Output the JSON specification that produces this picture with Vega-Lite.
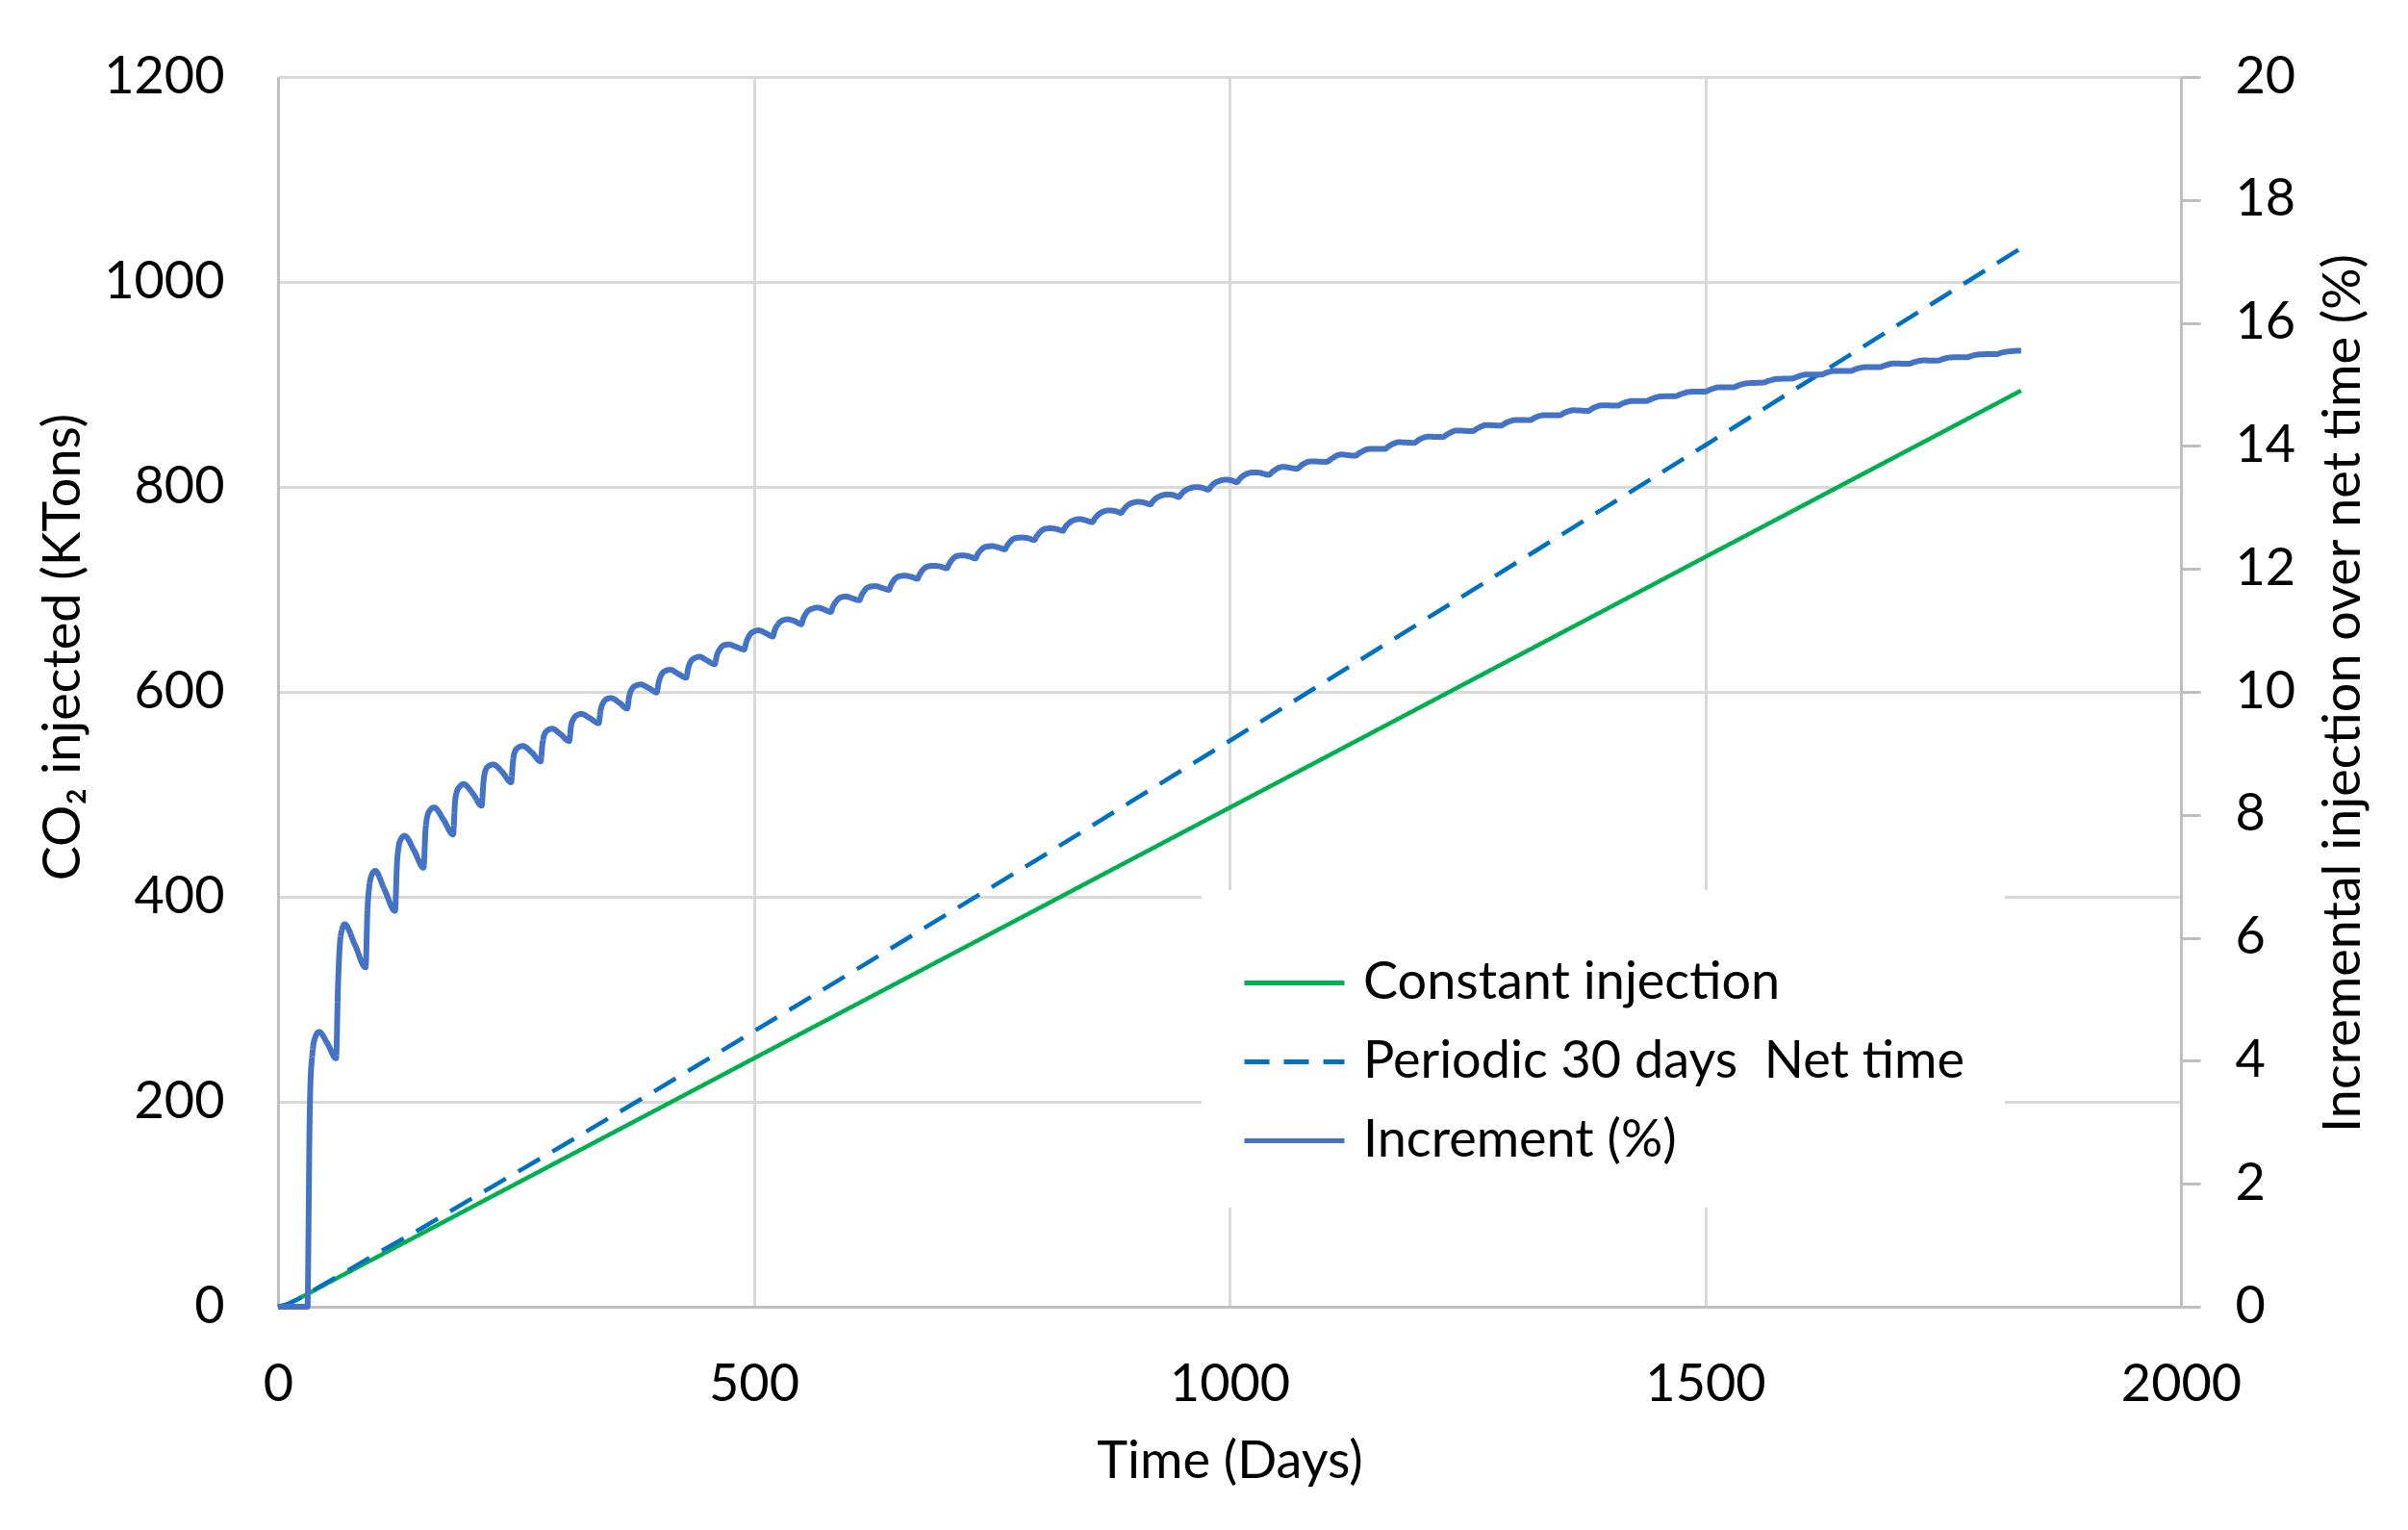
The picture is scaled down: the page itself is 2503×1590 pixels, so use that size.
{
  "$schema": "https://vega.github.io/schema/vega-lite/v6.json",
  "width": 1978,
  "height": 1278,
  "autosize": {"type": "none"},
  "padding": {"left": 289, "top": 80, "right": 236, "bottom": 232},
  "background": "white",
  "config": {
    "view": {"stroke": null},
    "font": "Lato",
    "axis": {
      "labelFont": "Lato", "labelFontSize": 54, "labelColor": "#000000",
      "titleFont": "Lato", "titleFontSize": 54, "titleFontWeight": "normal", "titleColor": "#000000",
      "gridColor": "#d9d9d9", "gridWidth": 3,
      "domainColor": "#bfbfbf", "domainWidth": 3,
      "labelOverlap": false, "labelFlush": false
    }
  },
  "data": {"values": [
    {"series": "Constant injection", "t": 0, "v": 0},
    {"series": "Constant injection", "t": 10, "v": 2.5},
    {"series": "Constant injection", "t": 20, "v": 7},
    {"series": "Constant injection", "t": 30, "v": 12},
    {"series": "Constant injection", "t": 45, "v": 19.5},
    {"series": "Constant injection", "t": 60, "v": 27},
    {"series": "Constant injection", "t": 100, "v": 46.5},
    {"series": "Constant injection", "t": 200, "v": 95.5},
    {"series": "Constant injection", "t": 300, "v": 144.4},
    {"series": "Constant injection", "t": 400, "v": 193.3},
    {"series": "Constant injection", "t": 500, "v": 242.3},
    {"series": "Constant injection", "t": 600, "v": 291.2},
    {"series": "Constant injection", "t": 700, "v": 340.1},
    {"series": "Constant injection", "t": 800, "v": 389.0},
    {"series": "Constant injection", "t": 900, "v": 438.0},
    {"series": "Constant injection", "t": 1000, "v": 486.9},
    {"series": "Constant injection", "t": 1100, "v": 535.8},
    {"series": "Constant injection", "t": 1200, "v": 584.8},
    {"series": "Constant injection", "t": 1300, "v": 633.7},
    {"series": "Constant injection", "t": 1400, "v": 682.6},
    {"series": "Constant injection", "t": 1500, "v": 731.6},
    {"series": "Constant injection", "t": 1600, "v": 780.5},
    {"series": "Constant injection", "t": 1700, "v": 829.4},
    {"series": "Constant injection", "t": 1800, "v": 878.3},
    {"series": "Constant injection", "t": 1832, "v": 894.0},
    {"series": "Periodic 30 days\u00a0 Net time", "t": 0, "v": 0},
    {"series": "Periodic 30 days\u00a0 Net time", "t": 10, "v": 2.5},
    {"series": "Periodic 30 days\u00a0 Net time", "t": 20, "v": 7},
    {"series": "Periodic 30 days\u00a0 Net time", "t": 30, "v": 12},
    {"series": "Periodic 30 days\u00a0 Net time", "t": 45, "v": 20.3},
    {"series": "Periodic 30 days\u00a0 Net time", "t": 60, "v": 28.1},
    {"series": "Periodic 30 days\u00a0 Net time", "t": 100, "v": 49.8},
    {"series": "Periodic 30 days\u00a0 Net time", "t": 150, "v": 76.1},
    {"series": "Periodic 30 days\u00a0 Net time", "t": 200, "v": 103.6},
    {"series": "Periodic 30 days\u00a0 Net time", "t": 300, "v": 157.8},
    {"series": "Periodic 30 days\u00a0 Net time", "t": 400, "v": 212.8},
    {"series": "Periodic 30 days\u00a0 Net time", "t": 500, "v": 268.7},
    {"series": "Periodic 30 days\u00a0 Net time", "t": 600, "v": 324.7},
    {"series": "Periodic 30 days\u00a0 Net time", "t": 700, "v": 381.3},
    {"series": "Periodic 30 days\u00a0 Net time", "t": 800, "v": 437.6},
    {"series": "Periodic 30 days\u00a0 Net time", "t": 900, "v": 494.9},
    {"series": "Periodic 30 days\u00a0 Net time", "t": 1000, "v": 552.1},
    {"series": "Periodic 30 days\u00a0 Net time", "t": 1100, "v": 609.6},
    {"series": "Periodic 30 days\u00a0 Net time", "t": 1200, "v": 667.3},
    {"series": "Periodic 30 days\u00a0 Net time", "t": 1300, "v": 725.1},
    {"series": "Periodic 30 days\u00a0 Net time", "t": 1400, "v": 782.8},
    {"series": "Periodic 30 days\u00a0 Net time", "t": 1500, "v": 840.6},
    {"series": "Periodic 30 days\u00a0 Net time", "t": 1600, "v": 898.6},
    {"series": "Periodic 30 days\u00a0 Net time", "t": 1700, "v": 956.6},
    {"series": "Periodic 30 days\u00a0 Net time", "t": 1800, "v": 1014.5},
    {"series": "Periodic 30 days\u00a0 Net time", "t": 1832, "v": 1033.1},
    {"series": "Increment (%)", "t": 0, "v": 0},
    {"series": "Increment (%)", "t": 10, "v": 0},
    {"series": "Increment (%)", "t": 20, "v": 0},
    {"series": "Increment (%)", "t": 31, "v": 0},
    {"series": "Increment (%)", "t": 32, "v": 1.2},
    {"series": "Increment (%)", "t": 33, "v": 2.8},
    {"series": "Increment (%)", "t": 34, "v": 3.6},
    {"series": "Increment (%)", "t": 36, "v": 4.1},
    {"series": "Increment (%)", "t": 39, "v": 4.38},
    {"series": "Increment (%)", "t": 43, "v": 4.47},
    {"series": "Increment (%)", "t": 52, "v": 4.28},
    {"series": "Increment (%)", "t": 61, "v": 4.04},
    {"series": "Increment (%)", "t": 63, "v": 5.2},
    {"series": "Increment (%)", "t": 65, "v": 5.9},
    {"series": "Increment (%)", "t": 67, "v": 6.12},
    {"series": "Increment (%)", "t": 70, "v": 6.22},
    {"series": "Increment (%)", "t": 81, "v": 5.88},
    {"series": "Increment (%)", "t": 92, "v": 5.52},
    {"series": "Increment (%)", "t": 94, "v": 6.45},
    {"series": "Increment (%)", "t": 96, "v": 6.85},
    {"series": "Increment (%)", "t": 98, "v": 7.0},
    {"series": "Increment (%)", "t": 102, "v": 7.09},
    {"series": "Increment (%)", "t": 112, "v": 6.78},
    {"series": "Increment (%)", "t": 123, "v": 6.44},
    {"series": "Increment (%)", "t": 125, "v": 7.2},
    {"series": "Increment (%)", "t": 127, "v": 7.5},
    {"series": "Increment (%)", "t": 129, "v": 7.6},
    {"series": "Increment (%)", "t": 133, "v": 7.66},
    {"series": "Increment (%)", "t": 143, "v": 7.42},
    {"series": "Increment (%)", "t": 153, "v": 7.14},
    {"series": "Increment (%)", "t": 155, "v": 7.75},
    {"series": "Increment (%)", "t": 157, "v": 7.98},
    {"series": "Increment (%)", "t": 160, "v": 8.08},
    {"series": "Increment (%)", "t": 164, "v": 8.12},
    {"series": "Increment (%)", "t": 174, "v": 7.92},
    {"series": "Increment (%)", "t": 184, "v": 7.68},
    {"series": "Increment (%)", "t": 186, "v": 8.2},
    {"series": "Increment (%)", "t": 188, "v": 8.38},
    {"series": "Increment (%)", "t": 191, "v": 8.46},
    {"series": "Increment (%)", "t": 195, "v": 8.5},
    {"series": "Increment (%)", "t": 205, "v": 8.34},
    {"series": "Increment (%)", "t": 214, "v": 8.15},
    {"series": "Increment (%)", "t": 216, "v": 8.55},
    {"series": "Increment (%)", "t": 218, "v": 8.72},
    {"series": "Increment (%)", "t": 221, "v": 8.79},
    {"series": "Increment (%)", "t": 226, "v": 8.82},
    {"series": "Increment (%)", "t": 236, "v": 8.69},
    {"series": "Increment (%)", "t": 245, "v": 8.53},
    {"series": "Increment (%)", "t": 247, "v": 8.88},
    {"series": "Increment (%)", "t": 249, "v": 9.03},
    {"series": "Increment (%)", "t": 252, "v": 9.09},
    {"series": "Increment (%)", "t": 257, "v": 9.12},
    {"series": "Increment (%)", "t": 267, "v": 9.01},
    {"series": "Increment (%)", "t": 276, "v": 8.87},
    {"series": "Increment (%)", "t": 278, "v": 9.17},
    {"series": "Increment (%)", "t": 280, "v": 9.31},
    {"series": "Increment (%)", "t": 283, "v": 9.37},
    {"series": "Increment (%)", "t": 288, "v": 9.4},
    {"series": "Increment (%)", "t": 297, "v": 9.31},
    {"series": "Increment (%)", "t": 306, "v": 9.2},
    {"series": "Increment (%)", "t": 308, "v": 9.45},
    {"series": "Increment (%)", "t": 311, "v": 9.57},
    {"series": "Increment (%)", "t": 314, "v": 9.62},
    {"series": "Increment (%)", "t": 319, "v": 9.64},
    {"series": "Increment (%)", "t": 328, "v": 9.57},
    {"series": "Increment (%)", "t": 337, "v": 9.49},
    {"series": "Increment (%)", "t": 339, "v": 9.7},
    {"series": "Increment (%)", "t": 342, "v": 9.83},
    {"series": "Increment (%)", "t": 345, "v": 9.88},
    {"series": "Increment (%)", "t": 350, "v": 9.9},
    {"series": "Increment (%)", "t": 359, "v": 9.82},
    {"series": "Increment (%)", "t": 367, "v": 9.73},
    {"series": "Increment (%)", "t": 369, "v": 9.92},
    {"series": "Increment (%)", "t": 372, "v": 10.05},
    {"series": "Increment (%)", "t": 376, "v": 10.1},
    {"series": "Increment (%)", "t": 381, "v": 10.12},
    {"series": "Increment (%)", "t": 390, "v": 10.06},
    {"series": "Increment (%)", "t": 398, "v": 9.99},
    {"series": "Increment (%)", "t": 400, "v": 10.15},
    {"series": "Increment (%)", "t": 403, "v": 10.28},
    {"series": "Increment (%)", "t": 407, "v": 10.34},
    {"series": "Increment (%)", "t": 412, "v": 10.36},
    {"series": "Increment (%)", "t": 420, "v": 10.3},
    {"series": "Increment (%)", "t": 429, "v": 10.23},
    {"series": "Increment (%)", "t": 431, "v": 10.38},
    {"series": "Increment (%)", "t": 434, "v": 10.5},
    {"series": "Increment (%)", "t": 438, "v": 10.55},
    {"series": "Increment (%)", "t": 443, "v": 10.57},
    {"series": "Increment (%)", "t": 451, "v": 10.51},
    {"series": "Increment (%)", "t": 459, "v": 10.45},
    {"series": "Increment (%)", "t": 461, "v": 10.58},
    {"series": "Increment (%)", "t": 465, "v": 10.71},
    {"series": "Increment (%)", "t": 469, "v": 10.76},
    {"series": "Increment (%)", "t": 474, "v": 10.77},
    {"series": "Increment (%)", "t": 482, "v": 10.73},
    {"series": "Increment (%)", "t": 490, "v": 10.69},
    {"series": "Increment (%)", "t": 492, "v": 10.8},
    {"series": "Increment (%)", "t": 496, "v": 10.93},
    {"series": "Increment (%)", "t": 500, "v": 10.98},
    {"series": "Increment (%)", "t": 505, "v": 11.0},
    {"series": "Increment (%)", "t": 512, "v": 10.96},
    {"series": "Increment (%)", "t": 520, "v": 10.9},
    {"series": "Increment (%)", "t": 522, "v": 11.0},
    {"series": "Increment (%)", "t": 526, "v": 11.11},
    {"series": "Increment (%)", "t": 530, "v": 11.16},
    {"series": "Increment (%)", "t": 536, "v": 11.18},
    {"series": "Increment (%)", "t": 543, "v": 11.15},
    {"series": "Increment (%)", "t": 550, "v": 11.1},
    {"series": "Increment (%)", "t": 552, "v": 11.19},
    {"series": "Increment (%)", "t": 556, "v": 11.3},
    {"series": "Increment (%)", "t": 561, "v": 11.35},
    {"series": "Increment (%)", "t": 567, "v": 11.37},
    {"series": "Increment (%)", "t": 574, "v": 11.34},
    {"series": "Increment (%)", "t": 581, "v": 11.3},
    {"series": "Increment (%)", "t": 583, "v": 11.38},
    {"series": "Increment (%)", "t": 587, "v": 11.48},
    {"series": "Increment (%)", "t": 592, "v": 11.54},
    {"series": "Increment (%)", "t": 597, "v": 11.55},
    {"series": "Increment (%)", "t": 604, "v": 11.52},
    {"series": "Increment (%)", "t": 611, "v": 11.49},
    {"series": "Increment (%)", "t": 613, "v": 11.56},
    {"series": "Increment (%)", "t": 617, "v": 11.66},
    {"series": "Increment (%)", "t": 622, "v": 11.71},
    {"series": "Increment (%)", "t": 628, "v": 11.72},
    {"series": "Increment (%)", "t": 635, "v": 11.69},
    {"series": "Increment (%)", "t": 642, "v": 11.66},
    {"series": "Increment (%)", "t": 644, "v": 11.73},
    {"series": "Increment (%)", "t": 648, "v": 11.83},
    {"series": "Increment (%)", "t": 653, "v": 11.88},
    {"series": "Increment (%)", "t": 659, "v": 11.89},
    {"series": "Increment (%)", "t": 666, "v": 11.87},
    {"series": "Increment (%)", "t": 672, "v": 11.84},
    {"series": "Increment (%)", "t": 674, "v": 11.9},
    {"series": "Increment (%)", "t": 678, "v": 11.99},
    {"series": "Increment (%)", "t": 683, "v": 12.04},
    {"series": "Increment (%)", "t": 689, "v": 12.05},
    {"series": "Increment (%)", "t": 696, "v": 12.04},
    {"series": "Increment (%)", "t": 703, "v": 12.01},
    {"series": "Increment (%)", "t": 705, "v": 12.07},
    {"series": "Increment (%)", "t": 709, "v": 12.16},
    {"series": "Increment (%)", "t": 714, "v": 12.21},
    {"series": "Increment (%)", "t": 720, "v": 12.22},
    {"series": "Increment (%)", "t": 727, "v": 12.2},
    {"series": "Increment (%)", "t": 733, "v": 12.17},
    {"series": "Increment (%)", "t": 735, "v": 12.23},
    {"series": "Increment (%)", "t": 739, "v": 12.31},
    {"series": "Increment (%)", "t": 744, "v": 12.36},
    {"series": "Increment (%)", "t": 751, "v": 12.37},
    {"series": "Increment (%)", "t": 757, "v": 12.35},
    {"series": "Increment (%)", "t": 764, "v": 12.32},
    {"series": "Increment (%)", "t": 766, "v": 12.37},
    {"series": "Increment (%)", "t": 770, "v": 12.45},
    {"series": "Increment (%)", "t": 775, "v": 12.5},
    {"series": "Increment (%)", "t": 781, "v": 12.51},
    {"series": "Increment (%)", "t": 788, "v": 12.5},
    {"series": "Increment (%)", "t": 795, "v": 12.47},
    {"series": "Increment (%)", "t": 797, "v": 12.52},
    {"series": "Increment (%)", "t": 801, "v": 12.6},
    {"series": "Increment (%)", "t": 806, "v": 12.65},
    {"series": "Increment (%)", "t": 812, "v": 12.66},
    {"series": "Increment (%)", "t": 818, "v": 12.65},
    {"series": "Increment (%)", "t": 825, "v": 12.62},
    {"series": "Increment (%)", "t": 827, "v": 12.67},
    {"series": "Increment (%)", "t": 831, "v": 12.74},
    {"series": "Increment (%)", "t": 836, "v": 12.79},
    {"series": "Increment (%)", "t": 843, "v": 12.81},
    {"series": "Increment (%)", "t": 849, "v": 12.79},
    {"series": "Increment (%)", "t": 856, "v": 12.76},
    {"series": "Increment (%)", "t": 858, "v": 12.81},
    {"series": "Increment (%)", "t": 862, "v": 12.88},
    {"series": "Increment (%)", "t": 867, "v": 12.93},
    {"series": "Increment (%)", "t": 873, "v": 12.95},
    {"series": "Increment (%)", "t": 880, "v": 12.94},
    {"series": "Increment (%)", "t": 886, "v": 12.91},
    {"series": "Increment (%)", "t": 888, "v": 12.95},
    {"series": "Increment (%)", "t": 892, "v": 13.02},
    {"series": "Increment (%)", "t": 897, "v": 13.07},
    {"series": "Increment (%)", "t": 904, "v": 13.09},
    {"series": "Increment (%)", "t": 910, "v": 13.08},
    {"series": "Increment (%)", "t": 917, "v": 13.05},
    {"series": "Increment (%)", "t": 919, "v": 13.09},
    {"series": "Increment (%)", "t": 923, "v": 13.15},
    {"series": "Increment (%)", "t": 928, "v": 13.19},
    {"series": "Increment (%)", "t": 935, "v": 13.21},
    {"series": "Increment (%)", "t": 941, "v": 13.2},
    {"series": "Increment (%)", "t": 947, "v": 13.17},
    {"series": "Increment (%)", "t": 949, "v": 13.21},
    {"series": "Increment (%)", "t": 953, "v": 13.27},
    {"series": "Increment (%)", "t": 958, "v": 13.31},
    {"series": "Increment (%)", "t": 965, "v": 13.33},
    {"series": "Increment (%)", "t": 971, "v": 13.32},
    {"series": "Increment (%)", "t": 978, "v": 13.29},
    {"series": "Increment (%)", "t": 980, "v": 13.33},
    {"series": "Increment (%)", "t": 984, "v": 13.39},
    {"series": "Increment (%)", "t": 989, "v": 13.43},
    {"series": "Increment (%)", "t": 996, "v": 13.45},
    {"series": "Increment (%)", "t": 1002, "v": 13.44},
    {"series": "Increment (%)", "t": 1008, "v": 13.41},
    {"series": "Increment (%)", "t": 1010, "v": 13.45},
    {"series": "Increment (%)", "t": 1014, "v": 13.51},
    {"series": "Increment (%)", "t": 1019, "v": 13.55},
    {"series": "Increment (%)", "t": 1026, "v": 13.57},
    {"series": "Increment (%)", "t": 1033, "v": 13.56},
    {"series": "Increment (%)", "t": 1041, "v": 13.53},
    {"series": "Increment (%)", "t": 1046, "v": 13.59},
    {"series": "Increment (%)", "t": 1056, "v": 13.66},
    {"series": "Increment (%)", "t": 1071, "v": 13.63},
    {"series": "Increment (%)", "t": 1076, "v": 13.69},
    {"series": "Increment (%)", "t": 1086, "v": 13.75},
    {"series": "Increment (%)", "t": 1102, "v": 13.74},
    {"series": "Increment (%)", "t": 1107, "v": 13.79},
    {"series": "Increment (%)", "t": 1117, "v": 13.86},
    {"series": "Increment (%)", "t": 1132, "v": 13.84},
    {"series": "Increment (%)", "t": 1137, "v": 13.89},
    {"series": "Increment (%)", "t": 1147, "v": 13.95},
    {"series": "Increment (%)", "t": 1163, "v": 13.95},
    {"series": "Increment (%)", "t": 1168, "v": 14.0},
    {"series": "Increment (%)", "t": 1178, "v": 14.06},
    {"series": "Increment (%)", "t": 1194, "v": 14.05},
    {"series": "Increment (%)", "t": 1199, "v": 14.1},
    {"series": "Increment (%)", "t": 1209, "v": 14.15},
    {"series": "Increment (%)", "t": 1224, "v": 14.145},
    {"series": "Increment (%)", "t": 1229, "v": 14.19},
    {"series": "Increment (%)", "t": 1239, "v": 14.25},
    {"series": "Increment (%)", "t": 1255, "v": 14.24},
    {"series": "Increment (%)", "t": 1260, "v": 14.28},
    {"series": "Increment (%)", "t": 1270, "v": 14.34},
    {"series": "Increment (%)", "t": 1285, "v": 14.33},
    {"series": "Increment (%)", "t": 1290, "v": 14.37},
    {"series": "Increment (%)", "t": 1300, "v": 14.42},
    {"series": "Increment (%)", "t": 1316, "v": 14.42},
    {"series": "Increment (%)", "t": 1321, "v": 14.46},
    {"series": "Increment (%)", "t": 1331, "v": 14.5},
    {"series": "Increment (%)", "t": 1347, "v": 14.5},
    {"series": "Increment (%)", "t": 1352, "v": 14.54},
    {"series": "Increment (%)", "t": 1362, "v": 14.58},
    {"series": "Increment (%)", "t": 1377, "v": 14.57},
    {"series": "Increment (%)", "t": 1382, "v": 14.615},
    {"series": "Increment (%)", "t": 1392, "v": 14.66},
    {"series": "Increment (%)", "t": 1408, "v": 14.655},
    {"series": "Increment (%)", "t": 1413, "v": 14.69},
    {"series": "Increment (%)", "t": 1423, "v": 14.73},
    {"series": "Increment (%)", "t": 1438, "v": 14.73},
    {"series": "Increment (%)", "t": 1443, "v": 14.76},
    {"series": "Increment (%)", "t": 1453, "v": 14.805},
    {"series": "Increment (%)", "t": 1469, "v": 14.81},
    {"series": "Increment (%)", "t": 1474, "v": 14.84},
    {"series": "Increment (%)", "t": 1484, "v": 14.88},
    {"series": "Increment (%)", "t": 1500, "v": 14.884},
    {"series": "Increment (%)", "t": 1505, "v": 14.915},
    {"series": "Increment (%)", "t": 1515, "v": 14.955},
    {"series": "Increment (%)", "t": 1530, "v": 14.955},
    {"series": "Increment (%)", "t": 1535, "v": 14.985},
    {"series": "Increment (%)", "t": 1545, "v": 15.02},
    {"series": "Increment (%)", "t": 1561, "v": 15.03},
    {"series": "Increment (%)", "t": 1566, "v": 15.055},
    {"series": "Increment (%)", "t": 1576, "v": 15.09},
    {"series": "Increment (%)", "t": 1591, "v": 15.095},
    {"series": "Increment (%)", "t": 1596, "v": 15.12},
    {"series": "Increment (%)", "t": 1606, "v": 15.16},
    {"series": "Increment (%)", "t": 1622, "v": 15.16},
    {"series": "Increment (%)", "t": 1627, "v": 15.19},
    {"series": "Increment (%)", "t": 1637, "v": 15.22},
    {"series": "Increment (%)", "t": 1653, "v": 15.22},
    {"series": "Increment (%)", "t": 1658, "v": 15.25},
    {"series": "Increment (%)", "t": 1668, "v": 15.28},
    {"series": "Increment (%)", "t": 1683, "v": 15.28},
    {"series": "Increment (%)", "t": 1688, "v": 15.305},
    {"series": "Increment (%)", "t": 1698, "v": 15.34},
    {"series": "Increment (%)", "t": 1714, "v": 15.336},
    {"series": "Increment (%)", "t": 1719, "v": 15.36},
    {"series": "Increment (%)", "t": 1729, "v": 15.39},
    {"series": "Increment (%)", "t": 1744, "v": 15.387},
    {"series": "Increment (%)", "t": 1749, "v": 15.41},
    {"series": "Increment (%)", "t": 1759, "v": 15.44},
    {"series": "Increment (%)", "t": 1775, "v": 15.442},
    {"series": "Increment (%)", "t": 1780, "v": 15.465},
    {"series": "Increment (%)", "t": 1790, "v": 15.49},
    {"series": "Increment (%)", "t": 1806, "v": 15.493},
    {"series": "Increment (%)", "t": 1811, "v": 15.515},
    {"series": "Increment (%)", "t": 1821, "v": 15.54},
    {"series": "Increment (%)", "t": 1832, "v": 15.55}
  ]},
  "encoding": {
    "x": {
      "field": "t", "type": "quantitative",
      "scale": {"domain": [0, 2000], "nice": false, "zero": true},
      "axis": {
        "values": [0, 500, 1000, 1500, 2000],
        "format": "d",
        "title": "Time (Days)",
        "grid": true, "ticks": false,
        "labelBaseline": "alphabetic", "labelPadding": 97,
        "titleBaseline": "alphabetic", "titleY": 177, "titleX": 989
      }
    }
  },
  "layer": [
    {
      "transform": [{"filter": "datum.series != 'Increment (%)'"}],
      "mark": {"type": "line", "strokeWidth": 4.5},
      "encoding": {
        "y": {
          "field": "v", "type": "quantitative",
          "scale": {"domain": [0, 1200], "nice": false},
          "axis": {
            "orient": "left",
            "values": [0, 200, 400, 600, 800, 1000, 1200],
            "format": "d",
            "title": "CO₂ injected (KTons)",
            "grid": true, "ticks": false,
            "labelPadding": 56, "labelAlign": "right", "labelBaseline": "middle",
            "titleAngle": -90, "titleBaseline": "alphabetic", "titleAlign": "center",
            "titleX": -207, "titleY": 592
          }
        },
        "color": {
          "field": "series", "type": "nominal",
          "scale": {"domain": ["Constant injection", "Periodic 30 days\u00a0 Net time", "Increment (%)"], "range": ["#00b050", "#0070c0", "#4472c4"]},
          "legend": {"title": null, "orient": "none", "legendX": 960, "legendY": 845, "fillColor": "white", "padding": 42, "symbolType": "stroke", "symbolSize": 10816, "symbolStrokeWidth": 5, "labelFont": "Lato", "labelFontSize": 54, "labelColor": "#000000", "labelOffset": 17, "rowPadding": -21, "labelLimit": 1000}
        },
        "strokeDash": {
          "field": "series", "type": "nominal",
          "scale": {"domain": ["Constant injection", "Periodic 30 days\u00a0 Net time", "Increment (%)"], "range": [[1, 0], [26, 15], [1, 0]]},
          "legend": {"title": null, "orient": "none", "legendX": 960, "legendY": 845, "fillColor": "white", "padding": 42, "symbolType": "stroke", "symbolSize": 10816, "symbolStrokeWidth": 5, "labelFont": "Lato", "labelFontSize": 54, "labelColor": "#000000", "labelOffset": 17, "rowPadding": -21, "labelLimit": 1000}
        }
      }
    },
    {
      "transform": [{"filter": "datum.series == 'Increment (%)'"}],
      "mark": {"type": "line", "strokeWidth": 6, "interpolate": "monotone"},
      "encoding": {
        "y": {
          "field": "v", "type": "quantitative",
          "scale": {"domain": [0, 20], "nice": false},
          "axis": {
            "orient": "right",
            "values": [0, 2, 4, 6, 8, 10, 12, 14, 16, 18, 20],
            "format": "d",
            "title": "Incremental injection over net time (%)",
            "grid": false, "ticks": true, "tickSize": 20, "tickColor": "#bfbfbf", "tickWidth": 3,
            "labelPadding": 36, "labelAlign": "left", "labelBaseline": "middle",
            "titleAngle": -90, "titleBaseline": "alphabetic", "titleAlign": "center",
            "titleX": 185, "titleY": 640
          }
        },
        "color": {"field": "series", "type": "nominal"},
        "strokeDash": {"field": "series", "type": "nominal"}
      }
    }
  ],
  "resolve": {"scale": {"y": "independent"}}
}
